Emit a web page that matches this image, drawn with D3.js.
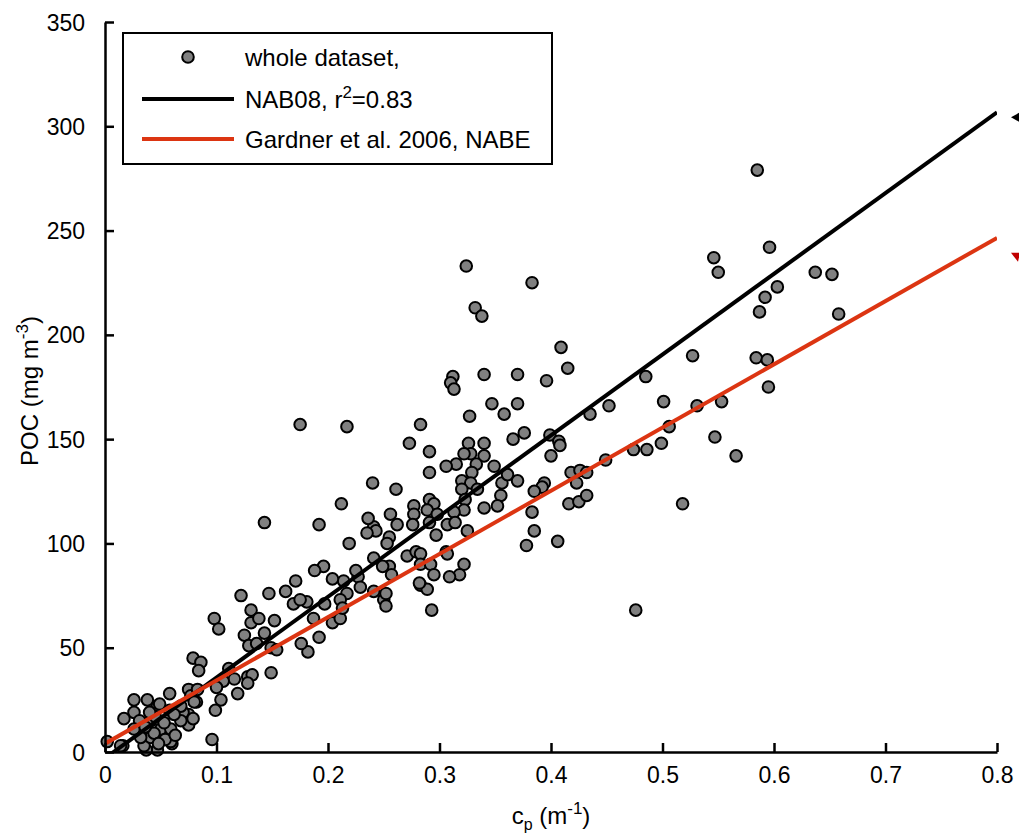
<!DOCTYPE html>
<html>
<head>
<meta charset="utf-8">
<script src="https://cdn.jsdelivr.net/npm/d3@7"></script>
<style>
  html, body { margin: 0; padding: 0; background: #fff; }
  svg { display: block; font-family: "Liberation Sans", Arial, sans-serif; }
</style>
</head>
<body>
<svg id="chart" width="1019" height="838"></svg>
<script>
// ---- data ----
const cpValues = [
  0.585,0.546,0.550,0.596,0.603,0.592,0.587,0.637,0.652,0.658,0.584,0.594,0.595,0.553,0.547,0.566,0.531,
  0.324,0.383,0.332,0.338,0.409,0.415,0.396,0.312,0.310,0.313,0.340,0.370,0.347,0.370,0.358,0.327,0.283,
  0.527,0.485,0.452,0.435,0.501,0.506,0.499,0.486,0.474,0.449,0.518,0.476,
  0.399,0.407,0.408,0.400,0.418,0.426,0.432,0.423,0.416,0.425,0.432,0.394,0.392,0.385,0.383,0.385,0.378,0.406,
  0.366,0.376,0.370,0.355,0.352,0.356,0.361,0.349,0.340,0.340,0.326,0.328,0.322,0.315,0.306,0.333,0.329,
  0.291,0.291,0.273,0.320,0.328,0.334,0.320,0.323,0.340,0.322,0.313,0.297,0.325,0.307,0.314,
  0.261,0.240,0.256,0.262,0.277,0.291,0.295,0.289,0.277,0.298,0.276,0.291,0.255,0.253,0.241,0.243,
  0.271,0.279,0.283,0.241,0.255,0.283,0.292,0.257,0.295,0.283,0.289,0.250,0.252,0.293,0.322,0.318,0.309,0.306,
  0.175,0.217,0.212,0.192,0.236,
  0.143,0.219,0.235,0.307,0.282,0.252,0.227,0.249,0.241,0.225,0.229,0.217,0.214,0.211,0.204,0.196,0.188,
  0.197,0.204,0.211,0.213,0.192,0.182,0.176,0.187,0.181,0.171,0.169,0.162,0.175,0.147,0.122,0.131,0.131,
  0.138,0.152,0.143,0.125,0.129,0.136,0.149,0.154,0.098,0.102,0.149,0.111,0.116,0.128,0.132,0.128,0.106,
  0.100,0.119,0.104,0.099,0.079,0.086,0.084,0.075,0.058,0.077,0.082,0.075,0.075,0.096,0.070,0.079,
  0.026,0.038,0.026,0.017,0.047,0.056,0.060,0.047,0.037,0.016,0.002,
  0.031,0.041,0.050,0.059,0.068,0.068,0.049,0.058,0.014,0.035,0.059,0.041,0.032,0.044,0.026,
  0.053,0.045,0.036,0.054,0.063,0.048,0.040,0.062,0.080,0.083
];
const pocValues = [
  279,237,230,242,223,218,211,230,229,210,189,188,175,168,151,142,166,
  233,225,213,209,194,184,178,180,177,174,181,181,167,167,162,161,157,
  190,180,166,162,168,156,148,145,145,140,119,68,
  152,149,147,142,134,135,134,129,119,120,123,129,127,125,115,106,99,101,
  150,153,130,123,118,129,133,137,148,142,148,143,143,138,137,138,134,
  144,134,148,130,129,126,126,121,117,116,115,104,106,109,110,
  126,129,114,109,118,121,119,116,114,114,109,110,103,100,108,106,
  94,96,95,93,89,90,90,85,85,80,78,73,70,68,90,85,84,96,
  157,156,119,109,112,
  110,100,105,95,81,76,84,89,77,87,79,76,82,73,83,89,87,
  71,62,64,69,55,48,52,64,72,82,71,77,73,76,75,68,62,
  64,63,57,56,51,52,50,49,64,59,38,40,35,36,37,33,34,
  31,28,25,20,45,43,39,30,28,27,24,18,13,6,19,16,
  25,25,19,16,22,9,4,1,1,3,5,
  15,15,11,11,15,22,23,20,3,3,5,7,7,9,11,
  14,17,12,6,8,4,19,18,24,30
];
const nabLineX = [0, 0.8];
const nabLineY = [-3, 306.7];
const gardnerLineX = [0, 0.8];
const gardnerLineY = [4, 246.5];
const xTicks = [0, 0.1, 0.2, 0.3, 0.4, 0.5, 0.6, 0.7, 0.8];
const yTicks = [0, 50, 100, 150, 200, 250, 300, 350];
const legendLabels = ["whole dataset,", "NAB08, r", "Gardner et al. 2006, NABE"];

// ---- layout ----
const svg = d3.select("#chart");
const L = 105, R = 997, T = 22, B = 752;
const x = d3.scaleLinear().domain([0, 0.8]).range([L, R]);
const y = d3.scaleLinear().domain([0, 350]).range([B, T]);
const tickFont = 23;
const labelFont = 24;
const supFont = 17;
const red = "#dc3512";

svg.append("defs").append("clipPath").attr("id", "plotclip")
  .append("rect").attr("x", L).attr("y", T).attr("width", R - L).attr("height", B - T);

// points
const pts = cpValues.map((c, i) => [c, pocValues[i]]);
svg.append("g").selectAll("circle").data(pts).join("circle")
  .attr("cx", d => x(d[0])).attr("cy", d => y(d[1])).attr("r", 5.8)
  .attr("fill", "#808080").attr("stroke", "#000").attr("stroke-width", 2);

// lines
const lineGen = d3.line().x(d => x(d[0])).y(d => y(d[1]));
const gl = svg.append("g").attr("clip-path", "url(#plotclip)");
gl.append("path").datum(nabLineX.map((v, i) => [v, nabLineY[i]]))
  .attr("d", lineGen).attr("stroke", "#000").attr("stroke-width", 4).attr("fill", "none");
gl.append("path").datum(gardnerLineX.map((v, i) => [v, gardnerLineY[i]]))
  .attr("d", lineGen).attr("stroke", red).attr("stroke-width", 4).attr("fill", "none");

// small markers to the right of the line ends
const bx = x(0.8) + 14, byy = y(nabLineY[1]) + 5;
svg.append("path").attr("d", `M${bx},${byy} L${bx + 9},${byy - 5} L${bx + 9},${byy + 5} Z`).attr("fill", "#000");
const rx = x(0.8) + 14, ry = y(gardnerLineY[1]) + 15;
svg.append("path").attr("d", `M${rx},${ry} L${rx + 9},${ry} L${rx + 7},${ry + 9} Z`).attr("fill", "#c00000");

// axes
const xAxis = d3.axisBottom(x).tickValues(xTicks).tickSizeInner(-9).tickSizeOuter(0)
  .tickPadding(15).tickFormat(d => d === 0 ? "0" : d3.format(".1f")(d));
const gx = svg.append("g").attr("transform", `translate(0,${B})`).call(xAxis);
const yAxis = d3.axisLeft(y).tickValues(yTicks).tickSizeInner(-9).tickSizeOuter(0)
  .tickPadding(20).tickFormat(d3.format("d"));
const gy = svg.append("g").attr("transform", `translate(${L},0)`).call(yAxis);
[gx, gy].forEach(g => {
  g.select(".domain").attr("stroke", "#000").attr("stroke-width", 2.5);
  g.selectAll(".tick line").attr("stroke", "#000").attr("stroke-width", 2.5);
  g.selectAll(".tick text").attr("font-size", tickFont).attr("fill", "#000")
    .attr("font-family", '"Liberation Sans", Arial, sans-serif');
});
gy.selectAll(".tick text").attr("dy", "0.35em");
gx.selectAll(".tick text").attr("dy", "0.71em");

// axis labels
const xl = svg.append("text").attr("x", 551).attr("y", 824).attr("text-anchor", "middle")
  .attr("font-size", labelFont).attr("fill", "#000");
xl.append("tspan").text("c");
xl.append("tspan").attr("font-size", 16).attr("dy", 6).text("p");
xl.append("tspan").attr("dy", -6).text(" (m");
xl.append("tspan").attr("font-size", supFont).attr("dy", -10).text("-1");
xl.append("tspan").attr("dy", 10).text(")");

const yl = svg.append("text").attr("transform", `translate(38,391) rotate(-90)`)
  .attr("text-anchor", "middle").attr("font-size", labelFont).attr("fill", "#000");
yl.append("tspan").text("POC (mg m");
yl.append("tspan").attr("font-size", supFont).attr("dy", -10).text("-3");
yl.append("tspan").attr("dy", 10).text(")");

// legend
const lg = svg.append("g");
lg.append("rect").attr("x", 123).attr("y", 33).attr("width", 429).attr("height", 131)
  .attr("fill", "#fff").attr("stroke", "#000").attr("stroke-width", 2);
lg.append("circle").attr("cx", 188).attr("cy", 57).attr("r", 5.8)
  .attr("fill", "#808080").attr("stroke", "#000").attr("stroke-width", 2);
lg.append("line").attr("x1", 142).attr("x2", 234).attr("y1", 99).attr("y2", 99)
  .attr("stroke", "#000").attr("stroke-width", 4);
lg.append("line").attr("x1", 142).attr("x2", 234).attr("y1", 139).attr("y2", 139)
  .attr("stroke", red).attr("stroke-width", 4);
const ly = [66, 108, 148];
lg.append("text").attr("x", 245).attr("y", ly[0]).attr("font-size", labelFont).text(legendLabels[0]);
const t2 = lg.append("text").attr("x", 245).attr("y", ly[1]).attr("font-size", labelFont);
t2.append("tspan").text(legendLabels[1]);
t2.append("tspan").attr("font-size", supFont).attr("dy", -10).text("2");
t2.append("tspan").attr("dy", 10).text("=0.83");
lg.append("text").attr("x", 245).attr("y", ly[2]).attr("font-size", labelFont).text(legendLabels[2]);
</script>
</body>
</html>
